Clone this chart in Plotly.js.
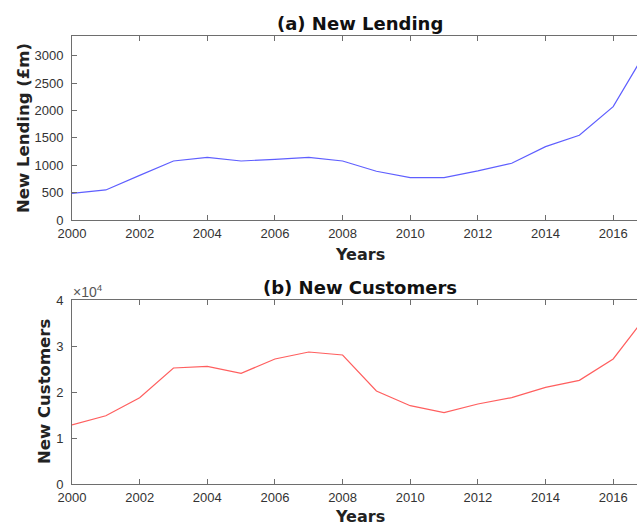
<!DOCTYPE html>
<html>
<head>
<meta charset="utf-8">
<script src="https://cdn.plot.ly/plotly-3.0.1.min.js"></script>
<style>
html, body { margin: 0; padding: 0; overflow: hidden; background: #fff; }
#chart { width: 648px; height: 525px; }
</style>
</head>
<body>
<div id="chart"></div>
<script>
// Data
var years = [2000, 2001, 2002, 2003, 2004, 2005, 2006, 2007, 2008, 2009, 2010, 2011, 2012, 2013, 2014, 2015, 2016, 2017];
var newLending = [487, 548, 815, 1077, 1144, 1077, 1108, 1144, 1077, 889, 773, 773, 895, 1035, 1339, 1548, 2069, 3110];
var newCustomers = [12920, 14890, 18820, 25280, 25650, 24130, 27240, 28760, 28110, 20280, 17090, 15570, 17460, 18850, 21070, 22600, 27250, 36800];

var xTickVals = [2000, 2002, 2004, 2006, 2008, 2010, 2012, 2014, 2016];
var lendingTickVals = [0, 500, 1000, 1500, 2000, 2500, 3000];
var customerTickVals = [0, 10000, 20000, 30000, 40000];
var customerTickText = ['0', '1', '2', '3', '4'];

var axisColor = '#6e6e6e';
var tickFont = { family: 'Liberation Sans, Arial, sans-serif', size: 13, color: '#333333' };
var boldFont = 'DejaVu Sans, sans-serif';

function xAxis(anchor) {
  return {
    anchor: anchor,
    domain: [0, 1],
    range: [2000, 2017],
    tickvals: xTickVals,
    ticktext: xTickVals.map(String),
    ticks: 'inside',
    ticklen: 5,
    tickwidth: 1,
    tickcolor: axisColor,
    showline: true,
    linecolor: axisColor,
    linewidth: 1,
    mirror: 'ticks',
    showgrid: false,
    zeroline: false,
    tickfont: tickFont,
    ticklabelstandoff: 1,
    automargin: false
  };
}
function yAxis(anchor, domain, range, vals, text) {
  return {
    anchor: anchor,
    domain: domain,
    range: range,
    tickvals: vals,
    ticktext: text,
    ticks: 'inside',
    ticklen: 5,
    tickwidth: 1,
    tickcolor: axisColor,
    showline: true,
    linecolor: axisColor,
    linewidth: 1,
    mirror: 'ticks',
    showgrid: false,
    zeroline: false,
    tickfont: tickFont,
    ticklabelstandoff: 5,
    automargin: false
  };
}

var traces = [
  { x: years, y: newLending, xaxis: 'x', yaxis: 'y', type: 'scatter', mode: 'lines',
    line: { color: 'rgb(95,95,255)', width: 1.2 }, hoverinfo: 'x+y' },
  { x: years, y: newCustomers, xaxis: 'x2', yaxis: 'y2', type: 'scatter', mode: 'lines',
    line: { color: 'rgb(255,95,95)', width: 1.2 }, hoverinfo: 'x+y' }
];

var layout = {
  width: 648,
  height: 525,
  margin: { l: 72, r: 1, t: 0, b: 0 },
  paper_bgcolor: '#ffffff',
  plot_bgcolor: '#ffffff',
  showlegend: false,
  xaxis: xAxis('y'),
  yaxis: yAxis('x', [0.581, 0.932], [0, 3365], lendingTickVals, lendingTickVals.map(String)),
  xaxis2: xAxis('y2'),
  yaxis2: yAxis('x2', [0.0775, 0.428], [0, 40000], customerTickVals, customerTickText),
  annotations: [
    { text: '<b>(a) New Lending</b>', xref: 'paper', yref: 'paper', x: 0.5, y: 1 - 23 / 525,
      xanchor: 'center', yanchor: 'middle', showarrow: false,
      font: { family: boldFont, size: 18, color: '#111111' } },
    { text: '<b>(b) New Customers</b>', xref: 'paper', yref: 'paper', x: 0.5, y: 1 - 287 / 525,
      xanchor: 'center', yanchor: 'middle', showarrow: false,
      font: { family: boldFont, size: 18, color: '#111111' } },
    { text: '<b>Years</b>', xref: 'paper', yref: 'paper', x: 0.5, y: 1 - 254 / 525,
      xanchor: 'center', yanchor: 'middle', showarrow: false,
      font: { family: boldFont, size: 16, color: '#222222' } },
    { text: '<b>Years</b>', xref: 'paper', yref: 'paper', x: 0.5, y: 1 - 516 / 525,
      xanchor: 'center', yanchor: 'middle', showarrow: false,
      font: { family: boldFont, size: 16, color: '#222222' } },
    { text: '<b>New Lending (£m)</b>', xref: 'paper', yref: 'paper', x: (23 - 72) / 575, y: 1 - 128 / 525,
      xanchor: 'center', yanchor: 'middle', textangle: -90, showarrow: false,
      font: { family: boldFont, size: 16.5, color: '#222222' } },
    { text: '<b>New Customers</b>', xref: 'paper', yref: 'paper', x: (44 - 72) / 575, y: 1 - 392 / 525,
      xanchor: 'center', yanchor: 'middle', textangle: -90, showarrow: false,
      font: { family: boldFont, size: 16.5, color: '#222222' } },
    { text: '×10<sup>4</sup>', xref: 'paper', yref: 'paper', x: (71 - 72) / 575, y: 1 - 291 / 525,
      xanchor: 'left', yanchor: 'middle', showarrow: false,
      font: { family: 'Liberation Sans, Arial, sans-serif', size: 14, color: '#555555' } }
  ]
};

Plotly.newPlot('chart', traces, layout, { staticPlot: true, displayModeBar: false });
</script>
</body>
</html>
